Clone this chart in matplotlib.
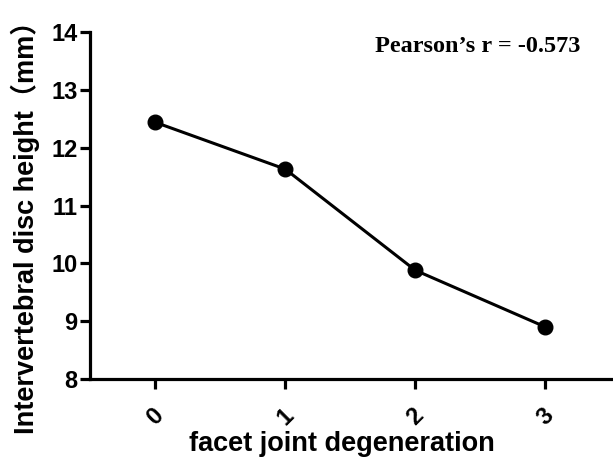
import matplotlib
matplotlib.use('Agg')
import matplotlib.pyplot as plt
import numpy as np

# data
grade = [0, 1, 2, 3]
height = [12.44, 11.63, 9.88, 8.90]
tick_labels = ['0', '1', '2', '3']
r_text = "Pearson\u2019s r = -0.573"

plt.rcParams['font.family'] = ['Liberation Sans', 'Noto Sans CJK SC']
plt.rcParams['font.weight'] = 'bold'

fig = plt.figure(figsize=(6.13, 4.58), dpi=100)
# axes box in figure fractions (spines at x=90px, y=379px, top=32px)
ax = fig.add_axes([0.147, 0.1725, 0.853, 0.7575])

ax.plot(grade, height, color='black', lw=2.2, marker='o', ms=10.5, clip_on=False)

ax.set_xlim(-0.5, 3.52)
ax.set_ylim(8, 14)
ax.set_yticks(np.arange(8, 15, 1))
ax.set_xticks(grade)
ax.set_xticklabels(tick_labels, rotation=45, ha='center', va='center')

for s in ['top', 'right']:
    ax.spines[s].set_visible(False)
for s in ['left', 'bottom']:
    ax.spines[s].set_linewidth(2.3)
ax.tick_params(width=2.3, length=7, labelsize=17, pad=2)
ax.tick_params(axis='x', pad=20)

ax.set_ylabel('Intervertebral disc height\uff08mm\uff09', fontsize=19.5, fontweight='bold')
ax.yaxis.set_label_coords(-0.095, 0.455)
ax.set_xlabel('facet joint degeneration', fontsize=19.5, fontweight='bold')
ax.xaxis.set_label_coords(0.482, -0.149)

ax.text(0.545, 0.99, r_text, transform=ax.transAxes, ha='left', va='top',
        fontsize=17.5, fontweight='bold', family='Liberation Serif')

fig.savefig('out.png', dpi=100)
